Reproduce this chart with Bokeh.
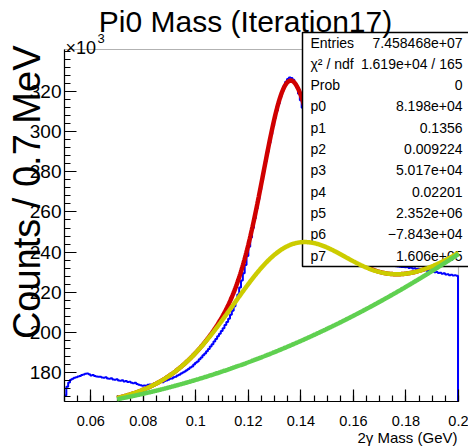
import numpy as np
from bokeh.plotting import figure
from bokeh.models import Range1d, FixedTicker, Label, BoxAnnotation, LinearAxis
from bokeh.embed import file_html
from bokeh.resources import INLINE

# ---------------- data ----------------
bin_width = 0.0007          # GeV (0.7 MeV)
x_start = 0.05              # first bin lower edge (GeV)

# histogram contents, in units of 10^3 counts per bin
counts_k = [
    168.5, 172.8, 175.0, 176.3, 176.8, 177.4, 177.6, 178.0, 178.2, 178.7,
    178.9, 179.3, 179.5, 179.1, 178.5, 178.7, 178.2, 178.0, 177.8, 177.9,
    177.5, 177.3, 177.6, 177.0, 176.8, 177.1, 176.5, 176.3, 176.6, 176.0,
    175.8, 176.1, 175.5, 175.7, 175.2, 175.4, 174.8, 174.6, 174.9, 174.2,
    173.9, 173.6, 173.3, 173.5, 173.4, 173.8, 174.0, 173.7, 174.3, 174.6,
    174.4, 175.0, 175.3, 175.1, 175.7, 176.0, 176.4, 176.8, 177.0, 177.6,
    177.9, 178.5, 178.8, 179.4, 180.0, 180.4, 181.1, 181.7, 182.4, 183.0,
    183.9, 184.8, 185.5, 186.6, 187.4, 188.5, 189.4, 190.6, 191.7, 192.9,
    194.0, 195.4, 196.6, 198.0, 199.3, 200.7, 202.0, 203.6, 205.1, 206.8,
    208.7, 210.8, 213.0, 215.8, 218.9, 222.3, 225.8, 229.5, 233.6, 238.0,
    242.6, 247.3, 252.0, 256.8, 261.6, 266.4, 271.2, 276.0, 280.7, 285.3,
    289.9, 294.4, 298.7, 302.9, 306.8, 310.5, 314.0, 317.3, 320.2, 322.8,
    324.9, 326.3, 327.0, 326.8, 325.9, 324.2, 321.9, 319.0, 315.7, 312.0,
    308.0, 303.7, 299.2, 294.5, 289.8, 285.1, 280.6, 276.2, 272.0, 268.1,
    264.4, 261.0, 257.9, 255.0, 252.4, 250.1, 248.1, 246.3, 244.7, 243.3,
    242.1, 241.0, 240.1, 239.3, 238.6, 238.0, 237.5, 237.0, 236.6, 236.2,
    235.9, 235.6, 235.4, 235.1, 234.9, 234.8, 234.6, 234.4, 234.3, 234.1,
    234.0, 233.9, 233.8, 233.6, 233.5, 233.4, 233.3, 233.2, 233.1, 233.0,
    232.9, 232.8, 232.7, 232.6, 232.5, 232.4, 232.6, 232.1, 232.3, 231.8,
    231.9, 231.5, 231.7, 231.2, 231.4, 230.9, 231.0, 230.6, 230.8, 230.3,
    230.4, 229.9, 230.1, 229.6, 229.7, 229.2, 229.4, 228.8, 229.0, 228.5,
    228.7, 228.3, 228.4, 228.2,
]

# fit parameters: gaus(p0,p1,p2) + gaus(p3,p1,p4) + p5*x^2 + p6*x + p7
fit_params = [8.198e4, 0.1356, 0.009224, 5.017e4, 0.02201, 2.352e6, -7.843e4, 1.606e5]
fit_range = (0.07, 0.2)

stats_names = ["Entries", "\u03c7\u00b2  /  ndf", "Prob", "p0", "p1", "p2", "p3",
               "p4", "p5", "p6", "p7"]
stats_values = ["7.458468e+07", "1.619e+04 / 165", "0", "8.198e+04", "0.1356",
                "0.009224", "5.017e+04", "0.02201", "2.352e+06", "\u22127.843e+04",
                "1.606e+05"]

x_lim = (0.05, 0.2)
y_lim = (165.5, 341.0)      # 10^3 counts
x_ticks = [0.06, 0.08, 0.1, 0.12, 0.14, 0.16, 0.18, 0.2]
x_tick_labels = ["0.06", "0.08", "0.1", "0.12", "0.14", "0.16", "0.18", "0.2"]
y_ticks = [180, 200, 220, 240, 260, 280, 300, 320]
y_tick_labels = ["180", "200", "220", "240", "260", "280", "300", "320"]

title_text = "Pi0 Mass (Iteration17)"
x_title = "2\u03b3 Mass (GeV)"
y_title = "Counts / 0.7 MeV"

# ---------------- figure ----------------
FONT = "Liberation Sans"
W, H = 468, 447
FL, FR, FT, FB = 64, 458, 49, 401      # ROOT frame edges in canvas pixels
kx = (FR - FL) / (x_lim[1] - x_lim[0])
ky = (FB - FT) / (y_lim[1] - y_lim[0])
xr = Range1d(x_lim[0] - FL / kx, x_lim[1] + (W - FR) / kx)
yr = Range1d(y_lim[0] - (H - FB) / ky, y_lim[1] + FT / ky)

p = figure(width=W, height=H, x_range=xr, y_range=yr,
           output_backend="svg", toolbar_location=None,
           x_axis_location=None, y_axis_location=None,
           min_border_left=0, min_border_right=0, min_border_top=0, min_border_bottom=0)
p.title.visible = False
p.grid.visible = False
p.outline_line_color = None
p.background_fill_color = "white"
p.border_fill_color = "white"

# canvas px -> annotation screen units (frame = whole canvas, origin bottom-left)
SX = lambda cx: cx
SY = lambda cy: H - cy

x_minor = [round(v, 4) for v in np.arange(0.05, 0.2001, 0.005)]
y_minor = [round(v, 1) for v in np.arange(168, 341, 4)]

xaxis = LinearAxis(fixed_location=y_lim[0], bounds=x_lim,
                   ticker=FixedTicker(ticks=x_ticks, minor_ticks=x_minor),
                   major_label_overrides=dict(zip(x_ticks, x_tick_labels)))
yaxis = LinearAxis(fixed_location=x_lim[0], bounds=y_lim,
                   ticker=FixedTicker(ticks=y_ticks, minor_ticks=y_minor),
                   major_label_overrides=dict(zip(y_ticks, y_tick_labels)))
for ax in (xaxis, yaxis):
    ax.major_tick_in = 12
    ax.major_tick_out = 0
    ax.minor_tick_in = 6
    ax.minor_tick_out = 0
    ax.axis_line_color = "black"
    ax.axis_line_width = 1.2
    ax.major_tick_line_color = "black"
    ax.minor_tick_line_color = "black"
    ax.major_tick_line_width = 1.2
    ax.minor_tick_line_width = 1.2
    ax.major_label_text_font = FONT
    ax.major_label_text_color = "black"
xaxis.major_label_text_font_size = "14.5px"
xaxis.major_label_standoff = 14
yaxis.major_label_text_font_size = "19px"
yaxis.major_label_standoff = 3
p.add_layout(xaxis, "below")
p.add_layout(yaxis, "left")

# ROOT frame (top and right edges)
p.add_layout(BoxAnnotation(left=x_lim[0], right=x_lim[1], bottom=y_lim[0], top=y_lim[1],
                           fill_alpha=0.0, line_color="black", line_width=1.2,
                           level="underlay"))

# histogram as a step outline (last bin edge drops to the frame bottom)
edges = x_start + bin_width * np.arange(len(counts_k) + 1)
hx = np.repeat(edges, 2)
hy = np.concatenate([[counts_k[0]], np.repeat(counts_k, 2), [y_lim[0]]])
p.line(hx, hy, line_color="#0000ff", line_width=2)

# fit functions
a0, mu, s1, a1, s2, c2, c1, c0 = fit_params
xf = np.linspace(fit_range[0], fit_range[1], 500)
bkg = c2 * xf ** 2 + c1 * xf + c0
g1 = a0 * np.exp(-0.5 * ((xf - mu) / s1) ** 2)
g2 = a1 * np.exp(-0.5 * ((xf - mu) / s2) ** 2)
p.line(xf, (g1 + g2 + bkg) / 1e3, line_color="#d00000", line_width=4.5)

# stats box
box = BoxAnnotation(left=SX(302), right=SX(472), top=SY(32), bottom=SY(266),
                    left_units="screen", right_units="screen",
                    top_units="screen", bottom_units="screen",
                    fill_color="white", fill_alpha=1.0,
                    line_color="black", line_width=1.5, line_alpha=1.0)
p.add_layout(box)
row_y0, row_dy = 42, 21.3
for i, (nm, vv) in enumerate(zip(stats_names, stats_values)):
    yy = SY(row_y0 + i * row_dy)
    p.add_layout(Label(x=SX(310), y=yy, x_units="screen", y_units="screen", text=nm,
                       text_font=FONT, text_font_size="14px", text_baseline="middle",
                       text_align="left", text_color="black"))
    p.add_layout(Label(x=SX(462), y=yy, x_units="screen", y_units="screen", text=vv,
                       text_font=FONT, text_font_size="14px", text_baseline="middle",
                       text_align="right", text_color="black"))

# components drawn after the stats box
p.line(xf, (g2 + bkg) / 1e3, line_color="#cccc00", line_width=4.5, level="overlay")
p.line(xf, bkg / 1e3, line_color="#5fd050", line_width=4.5, level="overlay")

# texts (anchored at their vertical middle)
p.add_layout(Label(x=SX(245), y=SY(20.5), x_units="screen", y_units="screen", text=title_text,
                   text_font=FONT, text_font_size="30px", text_align="center",
                   text_baseline="middle", text_color="black", level="overlay"))
p.add_layout(Label(x=SX(457), y=SY(436.5), x_units="screen", y_units="screen", text=x_title,
                   text_font=FONT, text_font_size="15px", text_align="right",
                   text_baseline="middle", text_color="black"))
p.add_layout(Label(x=SX(26.5), y=SY(45), x_units="screen", y_units="screen", text=y_title,
                   angle=np.pi / 2, text_font=FONT, text_font_size="38px", text_align="right",
                   text_baseline="middle", text_color="black"))
p.add_layout(Label(x=SX(65), y=SY(47), x_units="screen", y_units="screen", text="\u00d710",
                   text_font=FONT, text_font_size="18px", text_align="left",
                   text_baseline="middle", text_color="black"))
p.add_layout(Label(x=SX(97), y=SY(37.5), x_units="screen", y_units="screen", text="3",
                   text_font=FONT, text_font_size="13px", text_align="left",
                   text_baseline="middle", text_color="black"))

open("out.html", "w").write(file_html(p, INLINE))
